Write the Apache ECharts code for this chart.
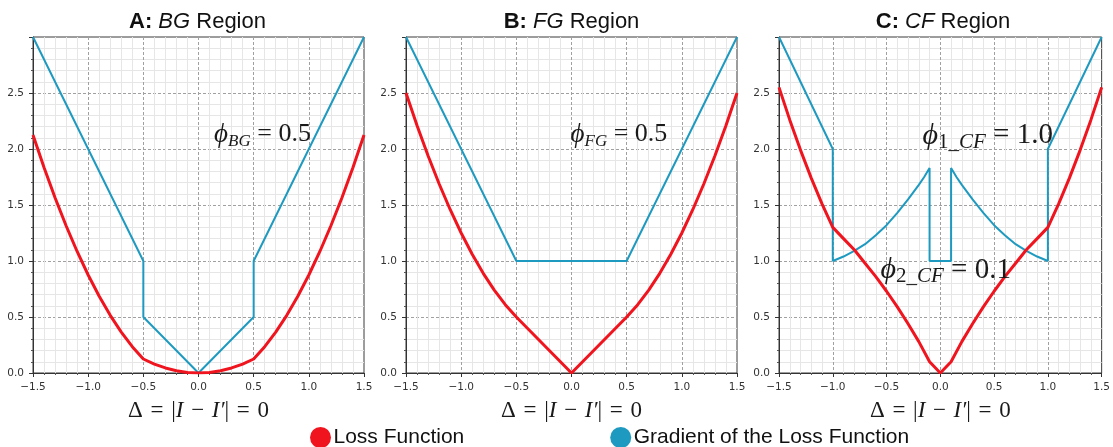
<!DOCTYPE html>
<html><head><meta charset="utf-8">
<script src="https://cdn.jsdelivr.net/npm/echarts@6/dist/echarts.min.js"></script>
<style>html,body{margin:0;padding:0;background:#fff}#c{width:1113px;height:447px}</style>
</head><body><div id="c"></div>
<script>
// ---- data ----
const panelLetters = ['A:', 'B:', 'C:'];
const panelRegions = ['BG', 'FG', 'CF'];
const seriesNames = ['Loss Function', 'Gradient of the Loss Function'];
const xTickValues = [-1.5, -1.0, -0.5, 0.0, 0.5, 1.0, 1.5];
const yTickValues = [0.0, 0.5, 1.0, 1.5, 2.0, 2.5];

const lossA = [[-1.5,2.125],[-1.4,1.835],[-1.3,1.565],[-1.2,1.315],[-1.1,1.085],[-1.0,0.875],[-0.9,0.685],[-0.8,0.515],[-0.7,0.365],[-0.6,0.235],[-0.5,0.125],[-0.4,0.08],[-0.3,0.045],[-0.2,0.02],[-0.1,0.005],[0,0],[0.1,0.005],[0.2,0.02],[0.3,0.045],[0.4,0.08],[0.5,0.125],[0.6,0.235],[0.7,0.365],[0.8,0.515],[0.9,0.685],[1.0,0.875],[1.1,1.085],[1.2,1.315],[1.3,1.565],[1.4,1.835],[1.5,2.125]];
const gradA = [[-1.5,3.0],[-0.5,1.0],[-0.5,0.5],[0,0],[0.5,0.5],[0.5,1.0],[1.5,3.0]];

const lossB = [[-1.5,2.5],[-1.4,2.21],[-1.3,1.94],[-1.2,1.69],[-1.1,1.46],[-1.0,1.25],[-0.9,1.06],[-0.8,0.89],[-0.7,0.74],[-0.6,0.61],[-0.5,0.5],[0,0],[0.5,0.5],[0.6,0.61],[0.7,0.74],[0.8,0.89],[0.9,1.06],[1.0,1.25],[1.1,1.46],[1.2,1.69],[1.3,1.94],[1.4,2.21],[1.5,2.5]];
const gradB = [[-1.5,3.0],[-0.5,1.0],[0.5,1.0],[1.5,3.0]];

const lossC = [[-1.5,2.55],[-1.4,2.26],[-1.3,1.99],[-1.2,1.74],[-1.1,1.51],[-1.0,1.30],[-0.9,1.20],[-0.8,1.10],[-0.7,0.98],[-0.6,0.86],[-0.5,0.73],[-0.4,0.59],[-0.3,0.44],[-0.2,0.28],[-0.1,0.10],[0,0],[0.1,0.10],[0.2,0.28],[0.3,0.44],[0.4,0.59],[0.5,0.73],[0.6,0.86],[0.7,0.98],[0.8,1.10],[0.9,1.20],[1.0,1.30],[1.1,1.51],[1.2,1.74],[1.3,1.99],[1.4,2.26],[1.5,2.55]];
const gradC = [[-1.5,3.0],[-1.0,2.0],[-1.0,1.0],[-0.9,1.04],[-0.8,1.09],[-0.7,1.15],[-0.6,1.23],[-0.5,1.32],[-0.4,1.43],[-0.3,1.55],[-0.2,1.68],[-0.15,1.75],[-0.1,1.83],[-0.1,1.0],[0.1,1.0],[0.1,1.83],[0.15,1.75],[0.2,1.68],[0.3,1.55],[0.4,1.43],[0.5,1.32],[0.6,1.23],[0.7,1.15],[0.8,1.09],[0.9,1.04],[1.0,1.0],[1.0,2.0],[1.5,3.0]];

// annotations: [x, y, subscript prefix, subscript, value]
const annotA = [[0.58, 2.13, '', 'BG', '0.5']];
const annotB = [[0.43, 2.13, '', 'FG', '0.5']];
const annotC = [[0.44, 2.12, '1_', 'CF', '1.0'], [0.05, 0.92, '2_', 'CF', '0.1']];

// ---- styling / layout ----
const RED = '#f0141e';
const BLUE = '#1e9ac0';
const gridLefts = [33, 406, 779];
const gridWidths = [331, 331, 332];
const gridTop = 37, gridHeight = 336;
const serif = 'Liberation Serif';
const SP = '\u2004';

function fmtX(v) { return (v < 0 ? '\u2212' : '') + Math.abs(v).toFixed(1); }
function fmtY(v) { return yTickValues.some(t => Math.abs(t - v) < 1e-6) ? v.toFixed(1) : ''; }

function makeRich(main, sub, drop) {
  return {
    p: {fontFamily: serif, fontStyle: 'italic', fontSize: main + 1, color: '#1a1a1a', verticalAlign: 'top', lineHeight: main},
    s0: {fontFamily: serif, fontSize: sub, color: '#1a1a1a', verticalAlign: 'top', lineHeight: sub, padding: [drop, 0, 0, 0]},
    s: {fontFamily: serif, fontStyle: 'italic', fontSize: sub, color: '#1a1a1a', verticalAlign: 'top', lineHeight: sub, padding: [drop, 0, 0, 0]},
    n: {fontFamily: serif, fontSize: main, color: '#1a1a1a', verticalAlign: 'top', lineHeight: main}
  };
}
const annRichs = [makeRich(26, 17, 12), makeRich(26, 17, 12), makeRich(29, 21, 11)];
function annText(a) {
  return '{p|\u03d5}' + (a[2] ? '{s0|' + a[2] + '}' : '') + '{s|' + a[3] + '}{n| = ' + a[4] + '}';
}
function markPts(list, rich) {
  return {
    symbol: 'circle', symbolSize: 0, silent: true, animation: false,
    data: list.map(a => ({coord: [a[0], a[1]], label: {show: true, position: 'inside', formatter: () => annText(a), rich: rich}}))
  };
}

const grids = [], xAxes = [], yAxes = [], titles = [], series = [];
const losses = [lossA, lossB, lossC], grads = [gradA, gradB, gradC], annots = [annotA, annotB, annotC];
const titleShift = [-6, -5, -7];
for (let i = 0; i < 3; i++) {
  grids.push({left: gridLefts[i], top: gridTop, width: gridWidths[i], height: gridHeight,
    show: true, borderColor: '#3a3a3a', borderWidth: 1, backgroundColor: 'transparent', containLabel: false});
  xAxes.push({
    type: 'value', gridIndex: i, min: xTickValues[0], max: xTickValues[xTickValues.length - 1], interval: 0.5,
    axisLine: {show: true, onZero: false, lineStyle: {color: '#333', width: 1}},
    axisTick: {show: true, length: 4, lineStyle: {color: '#333'}},
    minorTick: {show: true, splitNumber: 5, length: 2, lineStyle: {color: '#555'}},
    axisLabel: {formatter: fmtX, fontSize: 10.5, fontFamily: 'DejaVu Sans', color: '#333', margin: 9, showMinLabel: true, showMaxLabel: true},
    splitLine: {show: true, showMinLine: false, showMaxLine: false, lineStyle: {color: '#a0a0a0', type: [3, 2], width: 1}},
    minorSplitLine: {show: true, lineStyle: {color: '#e6e6e6', width: 1}},
    name: '{n|\u0394' + SP + '=' + SP + '|}{i|I}{n|' + SP + '\u2212' + SP + '}{i|I\u2032}{n||' + SP + '=' + SP + '0}',
    nameLocation: 'middle', nameGap: 26,
    nameTextStyle: {color: '#1a1a1a', rich: {
      n: {fontFamily: serif, fontSize: 23, color: '#1a1a1a'},
      i: {fontFamily: serif, fontStyle: 'italic', fontSize: 23, color: '#1a1a1a'}
    }}
  });
  yAxes.push({
    type: 'value', gridIndex: i, min: 0, max: 3.0, interval: 0.5,
    axisLine: {show: true, onZero: false, lineStyle: {color: '#333', width: 1}},
    axisTick: {show: true, length: 4, lineStyle: {color: '#333'}},
    minorTick: {show: true, splitNumber: 5, length: 2, lineStyle: {color: '#555'}},
    axisLabel: {formatter: fmtY, fontSize: 10.5, fontFamily: 'DejaVu Sans', color: '#333', margin: 9},
    splitLine: {show: true, showMinLine: true, showMaxLine: false, lineStyle: {color: '#a0a0a0', type: [3, 2], width: 1}},
    minorSplitLine: {show: true, lineStyle: {color: '#e6e6e6', width: 1}}
  });
  titles.push({
    text: '{b|' + panelLetters[i] + '} {i|' + panelRegions[i] + '}{r| Region}',
    left: gridLefts[i] + gridWidths[i] / 2 + titleShift[i], top: 6, textAlign: 'center',
    textStyle: {fontFamily: 'Liberation Sans', fontSize: 22, fontWeight: 'normal', color: '#111', rich: {
      b: {fontFamily: 'Liberation Sans', fontWeight: 'bold', fontSize: 22, color: '#111'},
      i: {fontFamily: 'Liberation Sans', fontStyle: 'italic', fontWeight: 'normal', fontSize: 22, color: '#111'},
      r: {fontFamily: 'Liberation Sans', fontWeight: 'normal', fontSize: 22, color: '#111'}
    }}
  });
  series.push({
    name: seriesNames[1], type: 'line', xAxisIndex: i, yAxisIndex: i, data: grads[i],
    showSymbol: false, symbol: 'none', color: BLUE, lineStyle: {color: BLUE, width: 2}, itemStyle: {color: BLUE},
    animation: false, z: 3
  });
  series.push({
    name: seriesNames[0], type: 'line', xAxisIndex: i, yAxisIndex: i, data: losses[i],
    showSymbol: false, symbol: 'none', color: RED, lineStyle: {color: RED, width: 3}, itemStyle: {color: RED},
    animation: false, z: 4, markPoint: markPts(annots[i], annRichs[i])
  });
}

const chart = echarts.init(document.getElementById('c'), null, {renderer: 'canvas'});
chart.setOption({
  backgroundColor: '#fff',
  animation: false,
  title: titles,
  grid: grids,
  xAxis: xAxes,
  yAxis: yAxes,
  legend: {
    data: [{name: seriesNames[0], itemStyle: {color: RED}}, {name: seriesNames[1], itemStyle: {color: BLUE}}],
    left: 305, top: 422, icon: 'circle', itemWidth: 22, itemHeight: 21, itemGap: 146,
    selectedMode: false,
    textStyle: {fontSize: 21, fontFamily: 'Liberation Sans', color: '#111', padding: [0, 0, 0, -3]}
  },
  series: series
});
</script>
</body></html>
